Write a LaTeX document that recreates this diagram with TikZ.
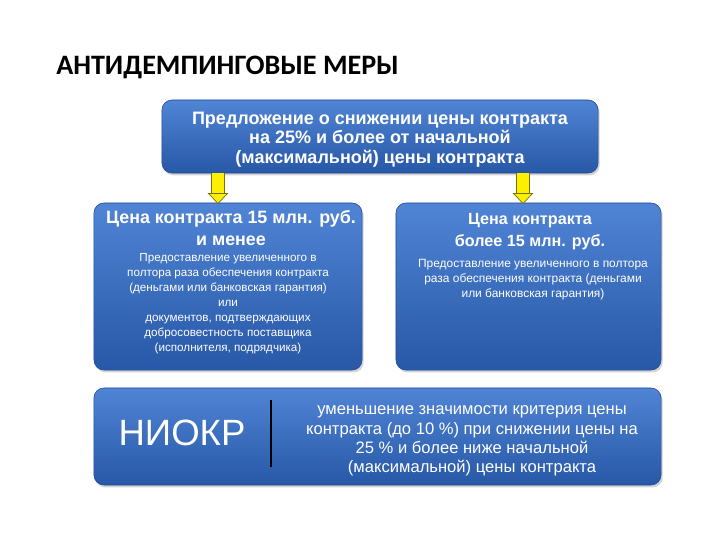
\documentclass[tikz,border=0pt]{standalone}
\usepackage{fontspec}
\setmainfont{Liberation Sans}
\newfontfamily\titlefont{Carlito}
\usetikzlibrary{arrows.meta,shadows}

\definecolor{boxtop}{RGB}{80,132,212}
\definecolor{boxbot}{RGB}{40,88,168}
\definecolor{boxline}{RGB}{34,74,146}
\definecolor{arrowfill}{RGB}{250,240,0}
\definecolor{arrowline}{RGB}{120,110,20}

\tikzset{
  panel/.style={rounded corners=0.25cm, draw=boxline, line width=0.4pt,
    top color=boxtop, bottom color=boxbot,
    drop shadow={shadow xshift=0.04cm, shadow yshift=-0.06cm, opacity=0.35}},
  bigtext/.style={text=white, font=\bfseries\fontsize{12.8}{14}\selectfont, align=center, inner sep=0pt},
  headtext/.style={text=white, font=\bfseries\fontsize{11.5}{15.6}\selectfont, align=center, inner sep=0pt},
  smalltext/.style={text=white, font=\fontsize{8.3}{10.7}\selectfont, align=center, inner sep=0pt},
  plaintext/.style={text=white, font=\fontsize{11.8}{13.8}\selectfont, align=center, inner sep=0pt},
  downarrow/.style={line width=0.32cm, draw=arrowfill,
    -{Triangle[length=0.27cm,width=0.52cm,line width=0.5pt,color=arrowline,fill=arrowfill]},
    preaction={-, draw=arrowline, line width=0.34cm, shorten >=0.26cm}}
}

\begin{document}
\begin{tikzpicture}[x=0.025cm, y=-0.025cm]
    % page frame in pixels of the slide
    \useasboundingbox (0,0) rectangle (720,540);

    % Title
    \node[anchor=west, inner sep=0pt, font=\titlefont\bfseries\fontsize{20}{22}\selectfont] (title) at (56,67) {АНТИДЕМПИНГОВЫЕ МЕРЫ};

    % Boxes
    \node[panel, minimum width=10.9cm, minimum height=1.825cm] (offer) at (380,136.5) {};
    \node[panel, minimum width=6.7cm, minimum height=4.175cm] (small) at (228,286.5) {};
    \node[panel, minimum width=6.625cm, minimum height=4.175cm] (large) at (528.5,286.5) {};
    \node[panel, minimum width=14.175cm, minimum height=2.425cm] (niokr) at (377.5,436.5) {};

    % Arrows from the offer box
    \coordinate (a1) at (218,0);
    \coordinate (a2) at (523,0);
    \draw[downarrow] (offer.south -| a1) -- ([yshift=-0.03cm]small.north -| a1);
    \draw[downarrow] (offer.south -| a2) -- ([yshift=-0.03cm]large.north -| a2);

    % Texts of the offer box
    \node[bigtext] (offertext) at (380,139.5) {Предложение о снижении цены контракта\\на 25\% и более от начальной\\(максимальной) цены контракта};

    % Texts of the left box
    \node[headtext, anchor=north, font=\bfseries\fontsize{12.7}{15.6}\selectfont] (smallhead) at (231,210) {Цена контракта 15 млн. руб.\\и менее};
    \node[smalltext, anchor=north] (smallbody) at (228,253) {Предоставление увеличенного в\\полтора раза обеспечения контракта\\(деньгами или банковская гарантия)\\или\\документов, подтверждающих\\добросовестность поставщика\\(исполнителя, подрядчика)};

    % Texts of the right box
    \node[headtext, anchor=north] (largehead) at (530,213) {Цена контракта\\более 15 млн. руб.};
    \node[smalltext, anchor=north, font=\fontsize{8.5}{10.8}\selectfont] (largebody) at (533,259) {Предоставление увеличенного в полтора\\раза обеспечения контракта (деньгами\\или банковская гарантия)};

    % Bottom box
    \node[text=white, inner sep=0pt, font=\fontsize{26}{28}\selectfont] (niokrlabel) at (182,433) {НИОКР};
    \coordinate (d1) at (271,400);
    \coordinate (d2) at (271,467);
    \draw[line width=1.6pt, black] (d1) -- (d2);
    \node[plaintext] (niokrtext) at (472,441) {уменьшение значимости критерия цены\\контракта (до 10 \%) при снижении цены на\\25 \% и более ниже начальной\\(максимальной) цены контракта};
\end{tikzpicture}
\end{document}
